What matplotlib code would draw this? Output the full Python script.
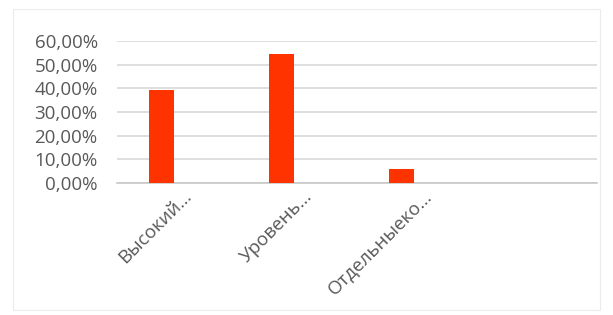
import matplotlib
matplotlib.use("Agg")
import matplotlib.pyplot as plt
from matplotlib.patches import Rectangle
from matplotlib.ticker import FuncFormatter
from matplotlib.transforms import ScaledTranslation

matplotlib.rcParams.update({"font.family": ["Open Sans", "DejaVu Sans"], "font.size": 10})

categories = ["Высокий...", "Уровень...", "Отдельныеко...", ""]
values = [0.394, 0.545, 0.061, None]
yticks = [0.0, 0.1, 0.2, 0.3, 0.4, 0.5, 0.6]

text_color = "#595959"
grid_color = "#d9d9d9"
bar_color = "#ff3300"

fig = plt.figure(figsize=(6.13, 3.15), dpi=100)
fig.patches.append(Rectangle((0.021, 0.015), 0.958, 0.955, transform=fig.transFigure,
                             fill=False, edgecolor="#ececec", linewidth=0.8))
ax = fig.add_axes([0.191, 0.419, 0.783, 0.451])

xs = [i for i, v in enumerate(values) if v is not None]
hs = [v for v in values if v is not None]
ax.bar([x - 0.13 for x in xs], hs, width=0.21, color=bar_color, zorder=3)

ax.set_xlim(-0.5, len(categories) - 0.5)
ax.set_ylim(0, 0.6)
ax.set_yticks(yticks)
ax.yaxis.set_major_formatter(FuncFormatter(lambda v, p: f"{v*100:.2f}%".replace(".", ",")))
ax.grid(axis="y", color=grid_color, linewidth=1.2, zorder=0)
for s in ["top", "right", "left"]:
    ax.spines[s].set_visible(False)
ax.spines["bottom"].set_color("#c8c8c8")
ax.spines["bottom"].set_linewidth(1.2)
ax.tick_params(axis="both", length=0, colors=text_color, labelsize=13.5)
ax.tick_params(axis="y", pad=14)

ax.set_xticks(range(len(categories)))
ax.set_xticklabels(categories, rotation=45, ha="right", rotation_mode="anchor")
ax.tick_params(axis="x", pad=3)
shift = ScaledTranslation(4 / 72, 0, fig.dpi_scale_trans)
for lbl in ax.get_xticklabels():
    lbl.set_transform(lbl.get_transform() + shift)

fig.savefig("out.png", dpi=100)
